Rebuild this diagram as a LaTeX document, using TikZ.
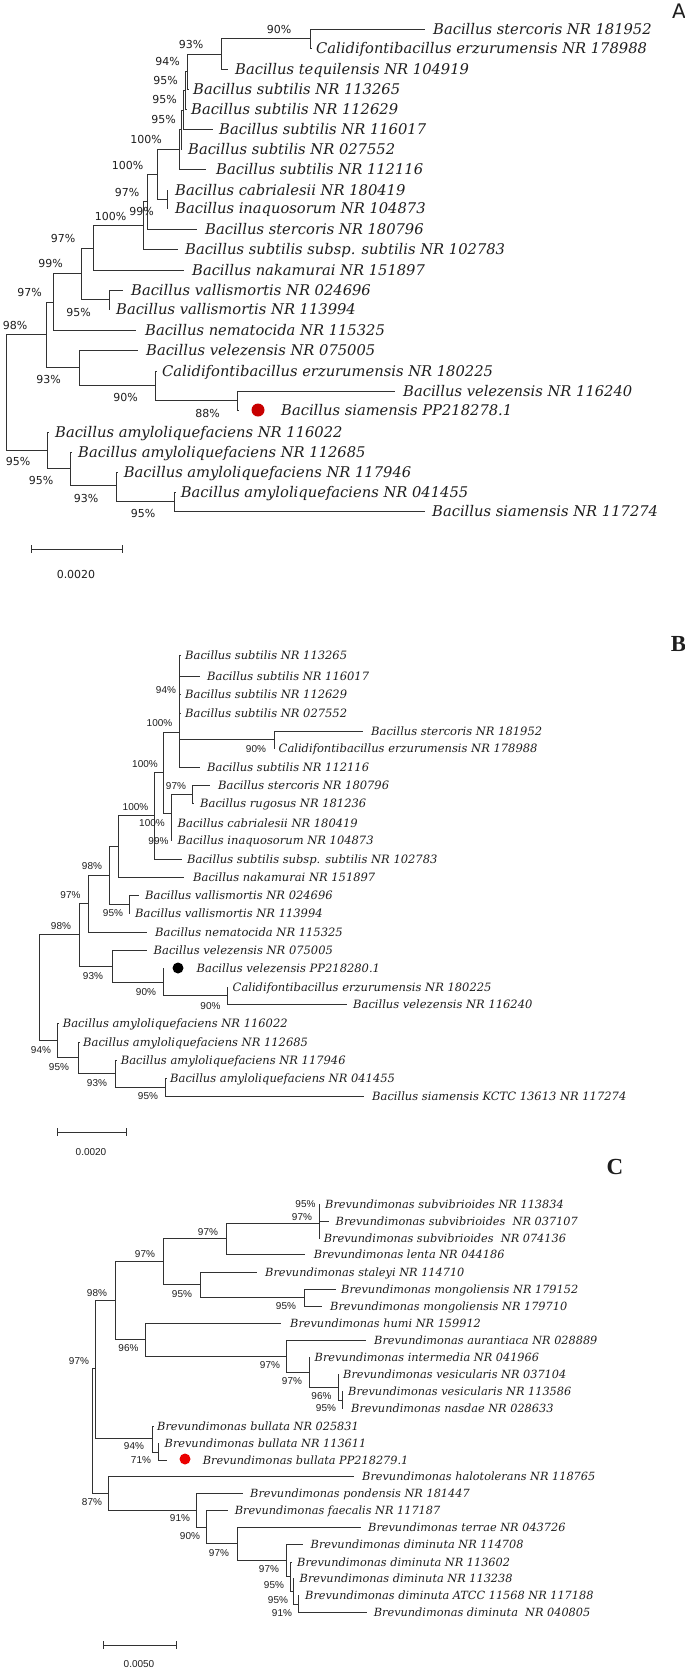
\documentclass[tikz,border=0pt]{standalone}
\usepackage{fontspec}
\newfontfamily\lfont{DejaVu Serif}
\newfontfamily\psans{DejaVu Sans}
\newfontfamily\parial{Liberation Sans}
\newfontfamily\pserif{Liberation Serif}
\definecolor{dotred}{RGB}{200,0,0}
\definecolor{dotredC}{RGB}{235,0,0}
\definecolor{ln}{RGB}{50,50,50}
\definecolor{tx}{RGB}{30,30,30}
\newcommand\lf[6]{\coordinate (#2) at (#3,#4); \node[#1] (#2t) at (#5,#4) {#6};}
\newcommand\br[3]{\foreach \ch in {#3} {\draw[#1] (#2) |- (\ch);}}
\tikzset{
 lA/.style={anchor=west,inner sep=0pt,text=tx,font=\lfont\itshape\fontsize{14.7}{17}\selectfont,text height=10.5pt,text depth=0pt},
 lB/.style={anchor=west,inner sep=0pt,text=tx,font=\lfont\itshape\fontsize{11.5}{14}\selectfont,text height=8.4pt,text depth=0pt},
 lC/.style={anchor=west,inner sep=0pt,text=tx,font=\lfont\itshape\fontsize{11.3}{14}\selectfont,text height=8.2pt,text depth=0pt},
 pA/.style={inner sep=0pt,text=tx,font=\psans\fontsize{11}{13}\selectfont,text height=8pt,text depth=0pt},
 pB/.style={inner sep=0pt,text=tx,font=\parial\fontsize{10}{12}\selectfont,text height=7.2pt,text depth=0pt},
 eA/.style={draw=ln,line width=0.9pt},
 eB/.style={draw=ln,line width=0.75pt},
}
\begin{document}
\begin{tikzpicture}[x=1pt,y=-1pt]
\fill[white] (0,0) rectangle (685,1668);
\useasboundingbox (0,0) rectangle (685,1668);

% ================= Panel A =================
\node[inner sep=0pt,text=tx,font=\psans\fontsize{20}{24}\selectfont] (labA) at (679,11) {A};
\lf{lA}{aL1}{425.4}{29}{433}{Bacillus stercoris NR 181952}
\lf{lA}{aL2}{312}{48.5}{316}{Calidifontibacillus erzurumensis NR 178988}
\lf{lA}{aL3}{228}{69}{235}{Bacillus tequilensis NR 104919}
\lf{lA}{aL4}{189}{89}{193}{Bacillus subtilis NR 113265}
\lf{lA}{aL5}{187}{109}{191}{Bacillus subtilis NR 112629}
\lf{lA}{aL6}{213}{129}{219}{Bacillus subtilis NR 116017}
\lf{lA}{aL7}{182}{149}{188}{Bacillus subtilis NR 027552}
\lf{lA}{aL8}{206}{169}{216}{Bacillus subtilis NR 112116}
\lf{lA}{aL9}{168}{190}{175}{Bacillus cabrialesii NR 180419}
\lf{lA}{aL10}{168}{208.5}{175}{Bacillus inaquosorum NR 104873}
\lf{lA}{aL11}{197}{229.5}{205}{Bacillus stercoris NR 180796}
\lf{lA}{aL12}{178}{249.5}{185}{Bacillus subtilis subsp. subtilis NR 102783}
\lf{lA}{aL13}{184}{270}{192}{Bacillus nakamurai NR 151897}
\lf{lA}{aL14}{123}{290}{131}{Bacillus vallismortis NR 024696}
\lf{lA}{aL15}{110}{309}{116}{Bacillus vallismortis NR 113994}
\lf{lA}{aL16}{136}{330}{145}{Bacillus nematocida NR 115325}
\lf{lA}{aL17}{138}{350}{146}{Bacillus velezensis NR 075005}
\lf{lA}{aL18}{157}{371}{162}{Calidifontibacillus erzurumensis NR 180225}
\lf{lA}{aL19}{395}{391}{403}{Bacillus velezensis NR 116240}
\lf{lA}{aL20}{239}{410}{281}{Bacillus siamensis PP218278.1}
\lf{lA}{aL21}{49}{432}{55}{Bacillus amyloliquefaciens NR 116022}
\lf{lA}{aL22}{72}{452}{78}{Bacillus amyloliquefaciens NR 112685}
\lf{lA}{aL23}{118}{472}{123.7}{Bacillus amyloliquefaciens NR 117946}
\lf{lA}{aL24}{176}{492}{180.7}{Bacillus amyloliquefaciens NR 041455}
\lf{lA}{aL25}{425}{511.5}{432}{Bacillus siamensis NR 117274}

\coordinate (aN90) at (310.5,38.5);
\coordinate (aN93) at (221.5,54);
\coordinate (aN94) at (187.7,71);
\coordinate (aN95a) at (185.5,90);
\coordinate (aN95b) at (183.3,110);
\coordinate (aN95c) at (181,129.5);
\coordinate (aNT) at (179,149);
\coordinate (aN100a) at (157,174);
\coordinate (aCab) at (167,199);
\coordinate (aN100b) at (147,201.5);
\coordinate (aN143) at (143,225.5);
\coordinate (aN97) at (93.4,248);
\coordinate (aN81) at (81,273.5);
\coordinate (aVal) at (109,299.5);
\coordinate (aN53) at (53.5,302);
\coordinate (aN46) at (46,334);
\coordinate (aVel) at (79,367);
\coordinate (aN155) at (155.7,385.5);
\coordinate (aN237) at (237.7,400.5);
\coordinate (aRoot) at (6.5,391);
\coordinate (aAmy) at (47,450);
\coordinate (aAmy2) at (70,468);
\coordinate (aAmy3) at (116,485);
\coordinate (aAmy4) at (174,501.5);

\br{eA}{aN90}{aL1,aL2}
\br{eA}{aN93}{aN90,aL3}
\br{eA}{aN94}{aN93,aL4}
\br{eA}{aN95a}{aN94,aL5}
\br{eA}{aN95b}{aN95a,aL6}
\br{eA}{aN95c}{aN95b,aL7}
\br{eA}{aNT}{aN95c,aL8}
\br{eA}{aN100a}{aNT,aCab}
\br{eA}{aCab}{aL9,aL10}
\br{eA}{aN100b}{aN100a,aL11}
\br{eA}{aN143}{aN100b,aL12}
\br{eA}{aN97}{aN143,aL13}
\br{eA}{aN81}{aN97,aVal}
\br{eA}{aVal}{aL14,aL15}
\br{eA}{aN53}{aN81,aL16}
\br{eA}{aN46}{aN53,aVel}
\br{eA}{aVel}{aL17,aN155}
\br{eA}{aN155}{aL18,aN237}
\br{eA}{aN237}{aL19,aL20}
\br{eA}{aRoot}{aN46,aAmy}
\br{eA}{aAmy}{aL21,aAmy2}
\br{eA}{aAmy2}{aL22,aAmy3}
\br{eA}{aAmy3}{aL23,aAmy4}
\br{eA}{aAmy4}{aL24,aL25}

\node[circle,fill=dotred,minimum size=13pt,inner sep=0pt] (aDot) at (258,410) {};

\foreach \px/\py/\pt [count=\i] in {279/29/90,191/44/93,167.5/61/94,165.5/80/95,164.5/99/95,163.5/119/95,146/139/100,127.5/165/100,127/192/97,141.5/211/99,110.5/216/100,63/238/97,50.5/263/99,29.5/292/97,15/325/98,78.5/312/95,48.5/379/93,125.5/397/90,207.5/413/88,18/461/95,41/480/95,86/498/93,143/513/95}
 {\node[pA] (pa\i) at (\px,\py) {\pt\%};}

\coordinate (sA1) at (31,549);
\coordinate (sA2) at (122,549);
\draw[eA] (sA1) -- (sA2);
\draw[eA] (sA1) ++(0,-4) -- ++(0,8);
\draw[eA] (sA2) ++(0,-4) -- ++(0,8);
\node[pA] (sAt) at (76,574) {0.0020};

% ================= Panel B =================
\node[inner sep=0pt,text=tx,font=\pserif\bfseries\fontsize{23}{26}\selectfont] (labB) at (678.5,643.5) {B};
\lf{lB}{bL1}{181}{655}{185}{Bacillus subtilis NR 113265}
\lf{lB}{bL2}{200}{676}{207}{Bacillus subtilis NR 116017}
\lf{lB}{bL3}{181}{694}{185}{Bacillus subtilis NR 112629}
\lf{lB}{bL4}{181}{713}{185}{Bacillus subtilis NR 027552}
\lf{lB}{bL5}{363}{731}{371}{Bacillus stercoris NR 181952}
\lf{lB}{bL6}{275}{748}{278.5}{Calidifontibacillus erzurumensis NR 178988}
\lf{lB}{bL7}{200}{767}{207}{Bacillus subtilis NR 112116}
\lf{lB}{bL8}{210}{785.5}{218}{Bacillus stercoris NR 180796}
\lf{lB}{bL9}{193.5}{803}{200}{Bacillus rugosus NR 181236}
\lf{lB}{bL10}{172}{823}{177.5}{Bacillus cabrialesii NR 180419}
\lf{lB}{bL11}{172}{840}{177.5}{Bacillus inaquosorum NR 104873}
\lf{lB}{bL12}{182}{859}{187}{Bacillus subtilis subsp. subtilis NR 102783}
\lf{lB}{bL13}{184}{877}{193}{Bacillus nakamurai NR 151897}
\lf{lB}{bL14}{139}{895}{145}{Bacillus vallismortis NR 024696}
\lf{lB}{bL15}{130}{913}{135}{Bacillus vallismortis NR 113994}
\lf{lB}{bL16}{147}{932}{155}{Bacillus nematocida NR 115325}
\lf{lB}{bL17}{147}{950}{153.5}{Bacillus velezensis NR 075005}
\lf{lB}{bL18}{164}{968}{196.5}{Bacillus velezensis PP218280.1}
\lf{lB}{bL19}{228}{987}{232.5}{Calidifontibacillus erzurumensis NR 180225}
\lf{lB}{bL20}{346.5}{1004}{353}{Bacillus velezensis NR 116240}
\lf{lB}{bL21}{58.5}{1023}{62.7}{Bacillus amyloliquefaciens NR 116022}
\lf{lB}{bL22}{79.5}{1042}{83}{Bacillus amyloliquefaciens NR 112685}
\lf{lB}{bL23}{116.5}{1060}{120.6}{Bacillus amyloliquefaciens NR 117946}
\lf{lB}{bL24}{166.5}{1078}{170}{Bacillus amyloliquefaciens NR 041455}
\lf{lB}{bL25}{364}{1096}{372}{Bacillus siamensis KCTC 13613 NR 117274}

\coordinate (bS) at (179.5,732);
\coordinate (bSt) at (274,739.5);
\coordinate (bRu) at (192.5,794);
\coordinate (bCg) at (171,813);
\coordinate (bN163) at (163,772);
\coordinate (bN154) at (154,815.5);
\coordinate (bN118) at (118.4,846);
\coordinate (bVal) at (129,904);
\coordinate (bN109) at (109,875);
\coordinate (bN88) at (88.6,903.5);
\coordinate (bN79) at (79,934.5);
\coordinate (bVel) at (112,966);
\coordinate (bN163v) at (163,982);
\coordinate (bN227) at (227,995.5);
\coordinate (bRoot) at (39.5,987);
\coordinate (bAmy) at (57,1040);
\coordinate (bAmy2) at (78,1057.5);
\coordinate (bAmy3) at (115,1073);
\coordinate (bAmy4) at (165,1087);
\coordinate (bT1) at (179.5,697);
\coordinate (bT2) at (179.5,739);

\br{eB}{bS}{bL1,bL2,bL3,bL4,bSt,bL7}
\draw[draw=ln,line width=1.6pt] (bT1) -- (bT2);
\br{eB}{bSt}{bL5,bL6}
\br{eB}{bRu}{bL8,bL9}
\br{eB}{bCg}{bRu,bL10,bL11}
\br{eB}{bN163}{bS,bCg}
\br{eB}{bN154}{bN163,bL12}
\br{eB}{bN118}{bN154,bL13}
\br{eB}{bVal}{bL14,bL15}
\br{eB}{bN109}{bN118,bVal}
\br{eB}{bN88}{bN109,bL16}
\br{eB}{bN79}{bN88,bVel}
\br{eB}{bVel}{bL17,bN163v}
\br{eB}{bN163v}{bL18,bN227}
\br{eB}{bN227}{bL19,bL20}
\br{eB}{bRoot}{bN79,bAmy}
\br{eB}{bAmy}{bL21,bAmy2}
\br{eB}{bAmy2}{bL22,bAmy3}
\br{eB}{bAmy3}{bL23,bAmy4}
\br{eB}{bAmy4}{bL24,bL25}

\node[circle,fill=black,minimum size=11pt,inner sep=0pt] (bDot) at (178,968) {};

\foreach \px/\py/\pt [count=\i] in {166/690/94,159.5/723/100,256/749/90,145/763.5/100,176/786/97,152/822.5/100,158.5/841/99,135.5/807/100,92/866/98,70.5/895/97,113/913/95,61/926/98,93/976/93,146/992/90,210.5/1006/90,41/1050/94,59/1067/95,97/1083/93,148/1096/95}
 {\node[pB] (pb\i) at (\px,\py) {\pt\%};}

\coordinate (sB1) at (57,1132);
\coordinate (sB2) at (126,1132);
\draw[eB] (sB1) -- (sB2);
\draw[eB] (sB1) ++(0,-4) -- ++(0,8);
\draw[eB] (sB2) ++(0,-4) -- ++(0,8);
\node[pB] (sBt) at (91,1152) {0.0020};

% ================= Panel C =================
\node[inner sep=0pt,text=tx,font=\pserif\bfseries\fontsize{23}{26}\selectfont] (labC) at (615,1166.5) {C};
\lf{lC}{cL1}{320}{1204}{325}{Brevundimonas subvibrioides NR 113834}
\lf{lC}{cL2}{329}{1221}{335.5}{Brevundimonas subvibrioides\ \ NR 037107}
\lf{lC}{cL3}{320}{1238}{323.7}{Brevundimonas subvibrioides\ \ NR 074136}
\lf{lC}{cL4}{305}{1254}{313.6}{Brevundimonas lenta NR 044186}
\lf{lC}{cL5}{257}{1272}{265}{Brevundimonas staleyi NR 114710}
\lf{lC}{cL6}{335.5}{1289}{341}{Brevundimonas mongoliensis NR 179152}
\lf{lC}{cL7}{322}{1306}{330}{Brevundimonas mongoliensis NR 179710}
\lf{lC}{cL8}{281}{1323}{290}{Brevundimonas humi NR 159912}
\lf{lC}{cL9}{366}{1340}{374}{Brevundimonas aurantiaca NR 028889}
\lf{lC}{cL10}{310}{1357}{314.5}{Brevundimonas intermedia NR 041966}
\lf{lC}{cL11}{339}{1374}{343}{Brevundimonas vesicularis NR 037104}
\lf{lC}{cL12}{343}{1391.5}{348}{Brevundimonas vesicularis NR 113586}
\lf{lC}{cL13}{343}{1408}{351}{Brevundimonas nasdae NR 028633}
\lf{lC}{cL14}{153.5}{1426}{157}{Brevundimonas bullata NR 025831}
\lf{lC}{cL15}{159}{1443}{164.5}{Brevundimonas bullata NR 113611}
\lf{lC}{cL16}{166.7}{1460}{202.6}{Brevundimonas bullata PP218279.1}
\lf{lC}{cL17}{354}{1476}{362}{Brevundimonas halotolerans NR 118765}
\lf{lC}{cL18}{243.4}{1493.5}{250}{Brevundimonas pondensis NR 181447}
\lf{lC}{cL19}{228}{1510.5}{234.6}{Brevundimonas faecalis NR 117187}
\lf{lC}{cL20}{360.5}{1527}{368}{Brevundimonas terrae NR 043726}
\lf{lC}{cL21}{302.6}{1544}{310.5}{Brevundimonas diminuta NR 114708}
\lf{lC}{cL22}{291.5}{1562}{297}{Brevundimonas diminuta NR 113602}
\lf{lC}{cL23}{294}{1578}{299.5}{Brevundimonas diminuta NR 113238}
\lf{lC}{cL24}{299}{1595.5}{305}{Brevundimonas diminuta ATCC 11568 NR 117188}
\lf{lC}{cL25}{367}{1612.5}{373.7}{Brevundimonas diminuta\ \ NR 040805}

\coordinate (cSv) at (319,1223);
\coordinate (cN226) at (226,1238.5);
\coordinate (cMg) at (304,1297.5);
\coordinate (cN200) at (200,1284.5);
\coordinate (cN163) at (163,1261.5);
\coordinate (cN342) at (342,1400);
\coordinate (cN338) at (338,1387);
\coordinate (cN309) at (309,1372);
\coordinate (cN286) at (286,1356);
\coordinate (cN145) at (145,1339);
\coordinate (cN115) at (115,1300);
\coordinate (cB2) at (158,1452);
\coordinate (cB1) at (152.6,1438.5);
\coordinate (cN95) at (95.6,1368.5);
\coordinate (cD4) at (298,1604);
\coordinate (cD3) at (293,1591);
\coordinate (cD2) at (290.7,1576.5);
\coordinate (cD1) at (286,1560);
\coordinate (cT) at (237,1543.5);
\coordinate (cF) at (206,1527);
\coordinate (cP) at (196.5,1510);
\coordinate (cH) at (108.8,1493);
\coordinate (cRoot) at (92,1431);

\br{eB}{cSv}{cL1,cL2,cL3}
\br{eB}{cN226}{cSv,cL4}
\br{eB}{cMg}{cL6,cL7}
\br{eB}{cN200}{cL5,cMg}
\br{eB}{cN163}{cN226,cN200}
\br{eB}{cN342}{cL12,cL13}
\br{eB}{cN338}{cL11,cN342}
\br{eB}{cN309}{cL10,cN338}
\br{eB}{cN286}{cL9,cN309}
\br{eB}{cN145}{cL8,cN286}
\br{eB}{cN115}{cN163,cN145}
\br{eB}{cB2}{cL15,cL16}
\br{eB}{cB1}{cL14,cB2}
\br{eB}{cN95}{cN115,cB1}
\br{eB}{cD4}{cL24,cL25}
\br{eB}{cD3}{cL23,cD4}
\br{eB}{cD2}{cL22,cD3}
\br{eB}{cD1}{cL21,cD2}
\br{eB}{cT}{cL20,cD1}
\br{eB}{cF}{cL19,cT}
\br{eB}{cP}{cL18,cF}
\br{eB}{cH}{cL17,cP}
\br{eB}{cRoot}{cN95,cH}

\node[circle,fill=dotredC,minimum size=11pt,inner sep=0pt] (cDot) at (185,1459) {};

\foreach \px/\py/\pt [count=\i] in {305.5/1204/95,302/1217/97,208/1232/97,145/1254/97,182/1294/95,286/1306/95,97/1293/98,128.5/1348/96,270/1365/97,292/1381/97,321.5/1396/96,326/1408/95,79/1361/97,134/1446/94,141/1460/71,92/1502/87,180/1518/91,190/1536/90,219/1553/97,269/1569/97,274/1584.5/95,278/1600/95,282/1612.5/91}
 {\node[pB] (pc\i) at (\px,\py) {\pt\%};}

\coordinate (sC1) at (103,1645);
\coordinate (sC2) at (176,1645);
\draw[eB] (sC1) -- (sC2);
\draw[eB] (sC1) ++(0,-4) -- ++(0,8);
\draw[eB] (sC2) ++(0,-4) -- ++(0,8);
\node[pB] (sCt) at (139,1664) {0.0050};
\end{tikzpicture}
\end{document}
